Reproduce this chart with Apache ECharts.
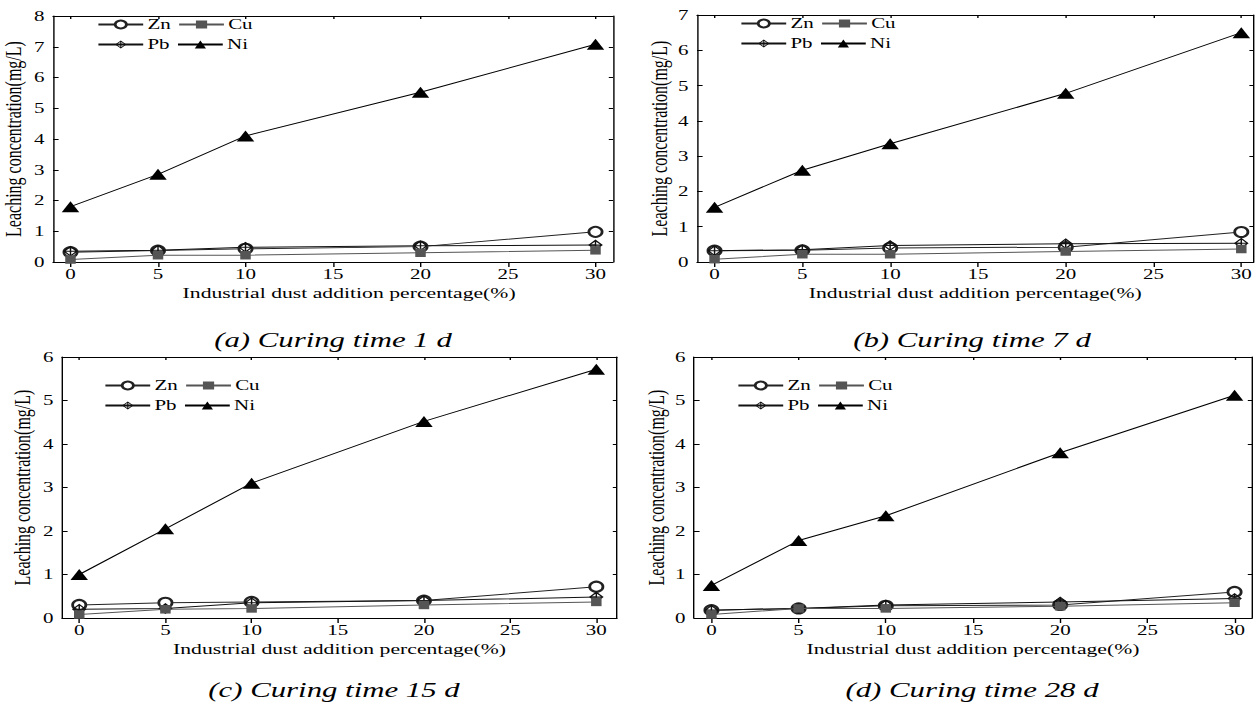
<!DOCTYPE html>
<html>
<head>
<meta charset="utf-8">
<script src="https://cdn.jsdelivr.net/npm/echarts@6/dist/echarts.min.js"></script>
<style>
html,body{margin:0;padding:0;background:#fff;overflow:hidden;}
#c{height:708px;transform-origin:0 0;}
</style>
</head>
<body>
<div id="c"></div>
<script>
// ---- data ----
const additionPct = [0, 5, 10, 20, 30];
const xTickValues = [0, 5, 10, 15, 20, 25, 30];
const seriesNames = ['Zn', 'Cu', 'Pb', 'Ni'];
const captions = ['(a) Curing time 1 d', '(b) Curing time 7 d', '(c) Curing time 15 d', '(d) Curing time 28 d'];
const xAxisTitle = 'Industrial dust addition percentage(%)';
const yAxisTitle = 'Leaching concentration(mg/L)';
const yMaxes = [8, 7, 6, 6];

// 1 d
const znA = [0.32, 0.37, 0.43, 0.50, 0.98];
const cuA = [0.08, 0.22, 0.22, 0.30, 0.38];
const pbA = [0.35, 0.38, 0.48, 0.53, 0.55];
const niA = [1.80, 2.85, 4.10, 5.52, 7.08];
// 7 d
const znB = [0.32, 0.33, 0.40, 0.42, 0.85];
const cuB = [0.08, 0.22, 0.22, 0.30, 0.37];
const pbB = [0.32, 0.35, 0.47, 0.52, 0.53];
const niB = [1.55, 2.60, 3.35, 4.78, 6.50];
// 15 d
const znC = [0.30, 0.35, 0.37, 0.40, 0.72];
const cuC = [0.08, 0.20, 0.22, 0.30, 0.37];
const pbC = [0.20, 0.22, 0.35, 0.40, 0.48];
const niC = [1.00, 2.05, 3.10, 4.52, 5.72];
// 28 d
const znD = [0.18, 0.22, 0.28, 0.30, 0.60];
const cuD = [0.08, 0.22, 0.22, 0.27, 0.35];
const pbD = [0.18, 0.22, 0.30, 0.37, 0.45];
const niD = [0.75, 1.78, 2.35, 3.80, 5.12];

const panelData = [
  [znA, cuA, pbA, niA],
  [znB, cuB, pbB, niB],
  [znC, cuC, pbC, niC],
  [znD, cuD, pbD, niD]
];

// ---- layout (the original figure is horizontally stretched; reproduce by a horizontal CSS scale) ----
const SX = 1.4;
const W = 1256;
const layouts = [
  {grid: {left: 53, top: 16, width: 560, height: 246}, xMin: -1, xMax: 31, legend: {left: 97, top: 17}, yGap: 20, cap: [333, 340], titleShift: 23},
  {grid: {left: 697, top: 15, width: 557, height: 247}, xMin: -1, xMax: 30.7, legend: {left: 740, top: 16}, yGap: 19, cap: [972, 340], titleShift: 0},
  {grid: {left: 62, top: 357, width: 555, height: 261}, xMin: -1, xMax: 31.2, legend: {left: 104, top: 378}, yGap: 20, cap: [334, 690], titleShift: 0},
  {grid: {left: 694, top: 357, width: 558, height: 261}, xMin: -1, xMax: 31, legend: {left: 737, top: 378}, yGap: 19, cap: [972, 690], titleShift: 0}
];

const FONT = 'Liberation Serif';
const pbSymbol = 'path://M10 0 L20 10 L10 20 L0 10 Z M10 2.8 L2.8 10 L10 17.2 L17.2 10 Z M9 1.5 L11 1.5 L11 18.5 L9 18.5 Z M1.5 9 L18.5 9 L18.5 11 L1.5 11 Z';
const styles = {
  Zn: {symbol: 'emptyCircle', symbolSize: [9.5, 10], color: '#222', bw: 0.8},
  Cu: {symbol: 'rect', symbolSize: [7.5, 8.5], color: '#555', bw: 1},
  Pb: {symbol: pbSymbol, symbolSize: [10.5, 11], color: '#111', bw: 1},
  Ni: {symbol: 'triangle', symbolSize: [12.5, 11], color: '#000', bw: 1}
};

const el = document.getElementById('c');
el.style.width = (W / SX) + 'px';
el.style.transform = 'scaleX(' + SX + ')';

const grids = [], xAxes = [], yAxes = [], series = [], legends = [], graphics = [];
layouts.forEach((L, i) => {
  grids.push({left: L.grid.left / SX, top: L.grid.top, width: L.grid.width / SX, height: L.grid.height, containLabel: false});
  const axisLine = {show: true, onZero: false, lineStyle: {color: '#000', width: 1}};
  xAxes.push({
    type: 'value', gridIndex: i, min: L.xMin, max: L.xMax, position: 'bottom',
    axisLine: axisLine, splitLine: {show: false},
    axisTick: {show: true, inside: false, length: 5, customValues: xTickValues, lineStyle: {color: '#000'}},
    axisLabel: {show: true, customValues: xTickValues, margin: 5, fontFamily: FONT, fontSize: 15, color: '#000'},
    name: xAxisTitle, nameLocation: 'middle', nameGap: 23,
    nameTextStyle: {fontFamily: FONT, fontSize: 15.5, color: '#000', padding: [0, 0, 0, L.titleShift]}
  });
  xAxes.push({
    type: 'value', gridIndex: i, min: L.xMin, max: L.xMax, position: 'top',
    axisLine: axisLine, splitLine: {show: false},
    axisTick: {show: true, inside: true, length: 3, customValues: xTickValues, lineStyle: {color: '#000'}},
    axisLabel: {show: false}
  });
  yAxes.push({
    type: 'value', gridIndex: i, min: 0, max: yMaxes[i], interval: 1, position: 'left',
    axisLine: axisLine, splitLine: {show: false},
    axisTick: {show: true, inside: true, length: 4, lineStyle: {color: '#000'}},
    axisLabel: {margin: 6, fontFamily: FONT, fontSize: 15, color: '#000'},
    name: yAxisTitle, nameLocation: 'middle', nameGap: L.yGap,
    nameTextStyle: {fontFamily: FONT, fontSize: 16, color: '#000'}
  });
  yAxes.push({
    type: 'value', gridIndex: i, min: 0, max: yMaxes[i], interval: 1, position: 'right',
    axisLine: axisLine, splitLine: {show: false},
    axisTick: {show: true, inside: true, length: 3, lineStyle: {color: '#000'}},
    axisLabel: {show: false}
  });
  seriesNames.forEach((name, k) => {
    const st = styles[name];
    series.push({
      type: 'line', name: name, xAxisIndex: i * 2, yAxisIndex: i * 2,
      data: additionPct.map((x, j) => [x, panelData[i][k][j]]),
      symbol: st.symbol, symbolSize: st.symbolSize, showAllSymbol: true,
      itemStyle: {color: st.color, borderWidth: st.bw},
      lineStyle: {color: st.color, width: 1},
      z: name === 'Cu' ? 3 : 2,
      animation: false
    });
  });
  legends.push({
    left: L.legend.left / SX, top: L.legend.top, width: 128, orient: 'horizontal',
    itemWidth: 32, itemHeight: 10, itemGap: 5, padding: 0,
    data: seriesNames,
    textStyle: {fontFamily: FONT, fontSize: 15, lineHeight: 15, color: '#000', padding: [0, 0, 0, -2]}
  });
  graphics.push({
    type: 'text', x: L.cap[0] / SX, y: L.cap[1],
    style: {text: captions[i], textAlign: 'center', textVerticalAlign: 'middle',
      font: 'italic 22px "' + FONT + '"', fill: '#000'}
  });
});

const chart = echarts.init(el, null, {renderer: 'svg', width: W / SX, height: 708});
chart.setOption({
  backgroundColor: '#fff',
  animation: false,
  grid: grids, xAxis: xAxes, yAxis: yAxes, series: series, legend: legends,
  graphic: graphics
});
</script>
</body>
</html>
